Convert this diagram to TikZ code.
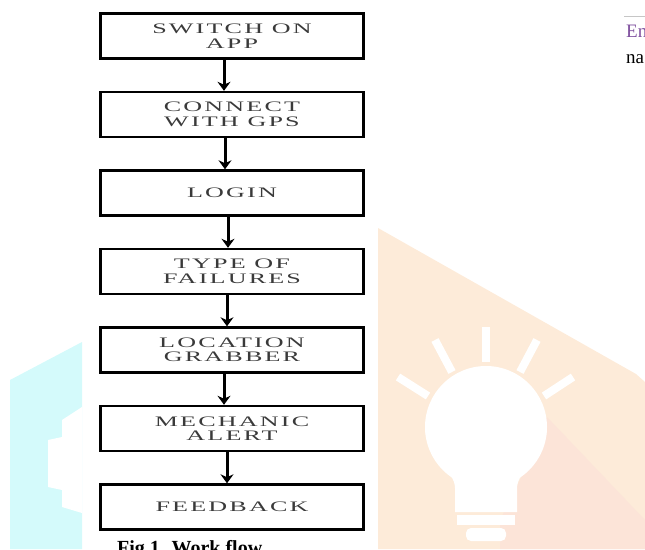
\documentclass[tikz,border=0pt]{standalone}
\usepackage{fontspec}
\setmainfont{Liberation Serif}
\newfontfamily\boxfont[FakeStretch=1.8,LetterSpace=15]{Liberation Serif}
\usetikzlibrary{arrows.meta}

\definecolor{boxtext}{HTML}{3A3A3A}
\definecolor{aqua}{HTML}{D4FAFB}
\definecolor{peach}{HTML}{FDEBD9}
\definecolor{peachdark}{HTML}{FCE4D8}
\definecolor{linkpurple}{HTML}{7E4F9E}

\tikzset{
  stage/.style={draw, line width=2.4pt, minimum width=263pt, minimum height=45pt,
    inner sep=0pt, align=center, text=boxtext, font=\boxfont\fontsize{14.5}{14.5}\selectfont},
  ray/.style={white, line width=8pt}
}

\begin{document}
\begin{tikzpicture}[x=1pt,y=-1pt,>={Stealth[length=9pt,width=13pt]},node distance=78.5pt]
        \useasboundingbox (0,0) rectangle (645,549);
        \clip (0,0) rectangle (645,549);

        % backdrop
        \fill[aqua] (10,380) -- (82,342) -- (82,549) -- (10,549) -- cycle;
        \fill[white] (82,407) -- (62,420) -- (62,437) -- (48,440) -- (48,487) -- (62,490) -- (62,507) -- (82,513) -- cycle;
        \fill[peach] (378,228) -- (636,374) -- (645,382) -- (645,549) -- (378,549) -- cycle;
        \fill[peachdark] (547,417) -- (645,520) -- (645,549) -- (500,549) -- (500,520) -- (520,480) -- cycle;

        % bulb
        \fill[white] (486,427) circle (61);
        \fill[white] (425,427) .. controls (425,455) and (455,470) .. (455,488) -- (455,512)
          -- (517,512) -- (517,488) .. controls (517,470) and (547,455) .. (547,427) -- cycle;
        \fill[white] (457,515) rectangle (515,525);
        \fill[white, rounded corners=5pt] (466,528) rectangle (506,541);
        \draw[ray] (486,327) -- (486,362);
        \draw[ray] (435,340) -- (452,372);
        \draw[ray] (537,340) -- (520,372);
        \draw[ray] (398,377) -- (428,396);
        \draw[ray] (573,377) -- (544,396);

        % work flow
        \node[stage] (sw) at (232,36) {SWITCH ON\\APP};
        \node[stage] (gps) [below of = sw] {CONNECT\\WITH GPS};
        \node[stage] (login) [below of = gps] {LOGIN};
        \node[stage] (fail) [below of = login] {TYPE OF\\FAILURES};
        \node[stage] (loc) [below of = fail] {LOCATION\\GRABBER};
        \node[stage] (mech) [below of = loc] {MECHANIC\\ALERT};
        \node[stage] (fb) [below of = mech] {FEEDBACK};

        \path[->, line width=3pt] ([xshift=-8pt]sw.south) edge ([xshift=-8pt]gps.north);
        \path[->, line width=3pt] ([xshift=-7pt]gps.south) edge ([xshift=-7pt]login.north);
        \path[->, line width=3pt] ([xshift=-4pt]login.south) edge ([xshift=-4pt]fail.north);
        \path[->, line width=3pt] ([xshift=-5pt]fail.south) edge ([xshift=-5pt]loc.north);
        \path[->, line width=3pt] ([xshift=-8pt]loc.south) edge ([xshift=-8pt]mech.north);
        \path[->, line width=3pt] ([xshift=-5pt]mech.south) edge ([xshift=-5pt]fb.north);

        \node[anchor=north west, inner sep=0pt, font=\bfseries\fontsize{20}{22}\selectfont] (cap) at (117,540) {Fig 1. Work flow};

        % page margin
        \draw[gray!45, line width=1pt] (624,16) -- (645,16);
        \node[anchor=base west, inner sep=0pt, text=linkpurple, font=\fontsize{19}{20}\selectfont] (en) at (626,37) {En};
        \node[anchor=base west, inner sep=0pt, font=\fontsize{19}{20}\selectfont] (na) at (626,63) {na};
      \end{tikzpicture}
\end{document}
